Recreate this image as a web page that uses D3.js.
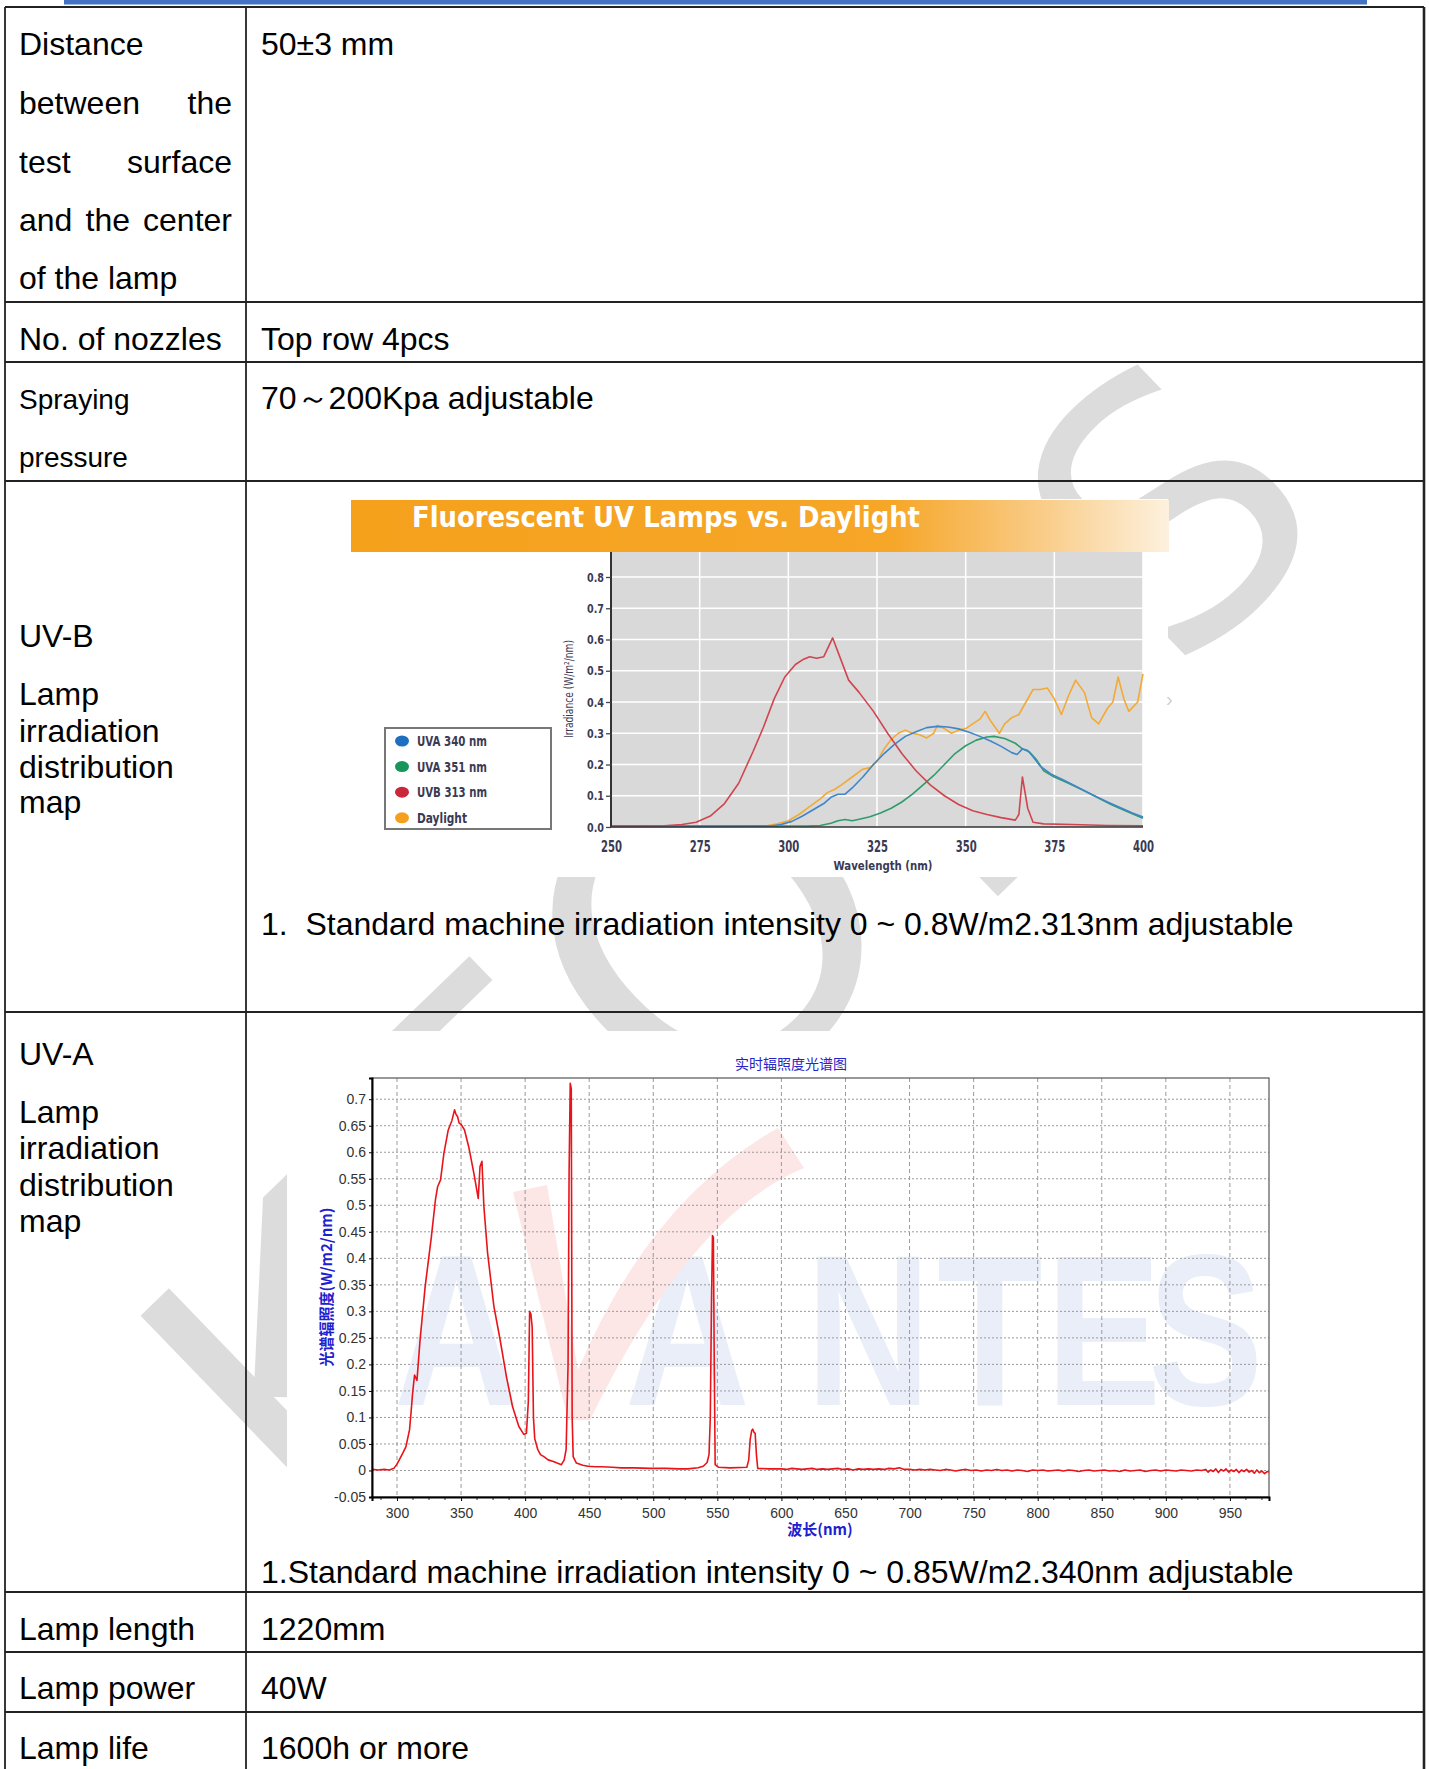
<!DOCTYPE html>
<html>
<head>
<meta charset="utf-8">
<title>UV lamp specification</title>
<script src="https://cdn.jsdelivr.net/npm/d3@7"></script>
<style>
  body { margin: 0; background: #fff; }
  svg { display: block; }
  .cell { font-family: "Liberation Sans", Arial, sans-serif; fill: #000; }
  .narrow { font-family: "Liberation Sans Narrow", "DejaVu Sans Condensed", "Liberation Sans", sans-serif; font-stretch: condensed; font-weight: bold; }
  .spec { font-family: "Liberation Sans", Arial, sans-serif; fill: #333; }
  .cjk { font-family: "Noto Sans CJK SC", "Liberation Sans", sans-serif; }
</style>
</head>
<body>
<div id="page"></div>
<script>
// table text
var rowLabels = [
  ['Distance', 'between the', 'test surface', 'and the center', 'of the lamp'],
  ['No. of nozzles'],
  ['Spraying', 'pressure'],
  ['UV-B', 'Lamp', 'irradiation', 'distribution', 'map'],
  ['UV-A', 'Lamp', 'irradiation', 'distribution', 'map'],
  ['Lamp length'],
  ['Lamp power'],
  ['Lamp life']
];
var rowValues = [
  '50±3 mm',
  'Top row 4pcs',
  '70～200Kpa adjustable',
  '1.  Standard machine irradiation intensity 0 ~ 0.8W/m2.313nm adjustable',
  '1.Standard machine irradiation intensity 0 ~ 0.85W/m2.340nm adjustable',
  '1220mm',
  '40W',
  '1600h or more'
];

// UV-B chart : Fluorescent UV Lamps vs. Daylight
var uvbTitle = 'Fluorescent UV Lamps vs. Daylight';
var uvbTicksX = [250, 275, 300, 325, 350, 375, 400];
var uvbTicksY = [0, 0.1, 0.2, 0.3, 0.4, 0.5, 0.6, 0.7, 0.8];
var legendNames = ['UVA 340 nm', 'UVA 351 nm', 'UVB 313 nm', 'Daylight'];

var uva340 = [[250,0.002],[295,0.003],[298,0.008],[301,0.018],[304,0.035],[307,0.055],[310,0.075],[312,0.095],[314,0.105],[316,0.105],[318,0.125],[321,0.16],[324,0.2],[327,0.235],[330,0.265],[333,0.29],[336,0.305],[339,0.318],[342,0.322],[345,0.32],[348,0.314],[351,0.303],[354,0.29],[357,0.275],[360,0.258],[363,0.238],[364.5,0.232],[366,0.25],[367.5,0.245],[369,0.225],[371,0.195],[374,0.17],[378,0.148],[382,0.125],[386,0.102],[390,0.08],[394,0.06],[397,0.045],[400,0.032]];
var uva351 = [[250,0.002],[305,0.003],[309,0.005],[312,0.012],[314,0.02],[316,0.024],[318,0.02],[320,0.025],[323,0.033],[326,0.045],[329,0.06],[332,0.08],[335,0.105],[338,0.135],[341,0.165],[344,0.2],[347,0.235],[350,0.26],[353,0.278],[356,0.288],[358,0.29],[361,0.283],[364,0.268],[366,0.25],[368,0.24],[370,0.215],[372,0.18],[375,0.16],[379,0.14],[383,0.118],[387,0.095],[391,0.072],[395,0.052],[400,0.028]];
var uvb313 = [[250,0.003],[260,0.003],[265,0.004],[270,0.008],[274,0.015],[278,0.035],[282,0.075],[286,0.14],[290,0.24],[293,0.32],[296,0.41],[299,0.48],[302,0.52],[304,0.535],[306,0.545],[308,0.54],[310,0.545],[312.5,0.605],[315,0.53],[317,0.47],[320,0.43],[324,0.37],[328,0.3],[332,0.235],[336,0.18],[340,0.135],[344,0.1],[348,0.072],[352,0.052],[356,0.04],[360,0.03],[364,0.022],[365,0.04],[366,0.16],[367.5,0.06],[369,0.015],[372,0.01],[380,0.008],[390,0.005],[400,0.004]];
var daylight = [[250,0.003],[294,0.004],[297,0.01],[300,0.02],[303,0.04],[306,0.065],[309,0.09],[311,0.11],[313,0.12],[315,0.135],[318,0.16],[321,0.185],[323,0.19],[325,0.21],[327,0.25],[329,0.28],[331,0.3],[333,0.31],[335,0.3],[337,0.295],[339,0.285],[341,0.3],[342,0.325],[344,0.315],[346,0.3],[348,0.31],[350,0.315],[352,0.33],[354,0.345],[355.5,0.37],[357,0.34],[359.5,0.3],[361,0.33],[363,0.35],[365,0.36],[367,0.4],[369,0.44],[371,0.44],[373,0.445],[375,0.41],[377,0.36],[379,0.42],[381,0.47],[383.5,0.43],[385.5,0.35],[387.5,0.33],[390,0.38],[391.5,0.4],[393,0.48],[394.6,0.41],[396,0.37],[398.5,0.4],[400,0.49]];

// UV-A chart : real-time irradiance spectrum
var specTitle = '实时辐照度光谱图';
var specYTitle = '光谱辐照度(W/m2/nm)';
var specXTitle = '波长(nm)';
var specTicksX = [300, 350, 400, 450, 500, 550, 600, 650, 700, 750, 800, 850, 900, 950];
var specTicksY = [-0.05, 0, 0.05, 0.1, 0.15, 0.2, 0.25, 0.3, 0.35, 0.4, 0.45, 0.5, 0.55, 0.6, 0.65, 0.7];
var spectrum = [[281,0.002],[285,0.001],[290,0.002],[294,0.001],[297.6,0.004],[300,0.012],[302.4,0.023],[305,0.035],[307,0.045],[309.8,0.077],[311,0.11],[312.2,0.146],[313.7,0.18],[315.6,0.17],[318,0.246],[322,0.347],[326.8,0.44],[330,0.51],[331.7,0.535],[334,0.548],[336.6,0.598],[340,0.642],[342.9,0.66],[344.9,0.68],[346,0.672],[347.3,0.667],[348.5,0.655],[350.2,0.652],[352.7,0.642],[356,0.61],[360,0.56],[363.4,0.513],[364.8,0.573],[366.3,0.583],[367.8,0.498],[370.7,0.41],[375.6,0.31],[380.5,0.246],[385.4,0.177],[390.2,0.12],[395.1,0.083],[399,0.068],[401,0.07],[402.5,0.13],[403.5,0.3],[404.5,0.295],[405.5,0.27],[406.5,0.1],[407.5,0.06],[409.8,0.04],[412,0.03],[414.6,0.026],[418,0.02],[422,0.017],[425,0.014],[428.3,0.011],[430.5,0.02],[432,0.04],[433.5,0.2],[434.3,0.56],[435.2,0.73],[436,0.72],[436.7,0.1],[437.5,0.026],[440,0.014],[445,0.01],[449,0.008],[455,0.007],[460,0.007],[468,0.006],[475,0.005],[485,0.005],[497.6,0.004],[510,0.004],[520,0.003],[527,0.003],[535,0.005],[539,0.008],[542,0.015],[543.5,0.03],[544.5,0.1],[545.4,0.31],[546.2,0.443],[546.9,0.44],[547.6,0.2],[548.3,0.011],[551,0.006],[560,0.005],[573,0.006],[574.5,0.02],[575.6,0.058],[576.8,0.075],[577.6,0.078],[578.6,0.072],[579.5,0.07],[580.5,0.03],[581.5,0.004],[590,0.003],
  [600,0.003],[604,0.002],[608,0.004],[612,0.003],[616,0.002],[620,0.003],[624,0.004],[628,0.002],[632,0.003],[636,0.002],[640,0.003],[644,0.004],[648,0.002],[652,0.003],[656,0.001],[660,0.003],[664,0.002],[668,0.003],[672,0.002],[676,0.003],[680,0.002],[684,0.004],[688,0.003],[692,0.005],[696,0.002],
  [700,0.002],[704,0.001],[708,0.002],[712,0.001],[716,0.002],[720,0.001],[724,0],[728,0.002],[732,0.001],[736,-0.001],[740,0.001],[744,0.002],[748,0],[752,0.001],[756,-0.001],[760,0.001],[764,0],[768,0.002],[772,0],[776,0.001],[780,-0.001],[784,0.001],[788,0],[792,-0.002],[796,0.001],
  [800,0],[804,0.001],[808,-0.001],[812,0],[816,0.001],[820,-0.001],[824,0.001],[828,0],[832,-0.002],[836,0],[840,0.001],[844,-0.001],[848,0],[852,0.001],[856,-0.001],[860,0],[864,-0.002],[868,0.001],[872,-0.001],[876,0],[880,0.001],[884,-0.002],[888,0],[892,0.001],[896,-0.001],
  [900,0.001],[904,0],[908,-0.001],[912,0.001],[916,0],[920,-0.001],[924,0.001],[928,0],[931,0.002],[933,-0.003],[935,0.001],[937,-0.002],[939,0.003],[941,-0.004],[943,0.002],[945,-0.001],[947,0.003],[949,-0.003],[951,0.001],[953,-0.002],[955,0.002],[957,-0.004],[959,0.001],[961,-0.002],[963,0.002],[965,-0.003],[967,0],[969,-0.005],[971,0.001],[973,-0.004],[975,-0.001],[977,-0.006],[979,-0.002],[980.5,-0.003]];

// page watermark letters
var watermark = ['K', 'T', 'O', 'N', 'S'];

var W = 1429, H = 1769;
var svg = d3.select('#page').append('svg').attr('width', W).attr('height', H);
var defs = svg.append('defs');
svg.append('rect').attr('width', W).attr('height', H).attr('fill', '#fff');

// ---------- grey page watermark (under everything) ----------
var wmPlace = [
  {cx: 313, cy: 1362, size: 400},
  {cx: 487, cy: 1152, size: 400},
  {cx: 712, cy: 935, size: 420},
  {cx: 981, cy: 720, size: 400},
  {cx: 1171, cy: 512, size: 360}
];
svg.selectAll('text.wm').data(watermark).enter().append('text')
  .attr('transform', function(d, i) { return 'translate(' + wmPlace[i].cx + ',' + wmPlace[i].cy + ') rotate(-44)'; })
  .attr('text-anchor', 'middle').attr('dominant-baseline', 'central')
  .style('font-family', 'DejaVu Sans')
  .style('font-size', function(d, i) { return wmPlace[i].size + 'px'; })
  .attr('fill', '#dcdcdc')
  .text(function(d) { return d; });

// ---------- table layout ----------
var colL = 5, colM = 246, colR = 1424;
var rowEdges = [7, 302, 362, 481, 1012, 1592, 1652, 1712];
var labelBase = [[55, 114, 173, 231, 289], [350], [409, 467], [647, 705, 742, 778, 813], [1065, 1123, 1159, 1196, 1232], [1640], [1699], [1759]];
var labelSize = [32, 32, 28, 32, 32, 32, 32, 32];
var valueBase = [55, 350, 409, 935, 1583, 1640, 1699, 1759];
var justified = {'between the': 1, 'test surface': 1, 'and the center': 1};

// ---------- UV-B chart ----------
var uvb = svg.append('g');
uvb.append('rect').attr('x', 350).attr('y', 499).attr('width', 818).attr('height', 378).attr('fill', '#fff');

var grad = defs.append('linearGradient').attr('id', 'bannerGrad').attr('x1', '0%').attr('x2', '100%');
grad.append('stop').attr('offset', '0%').attr('stop-color', '#f5a11c');
grad.append('stop').attr('offset', '66%').attr('stop-color', '#f6a628');
grad.append('stop').attr('offset', '84%').attr('stop-color', '#f9cb85');
grad.append('stop').attr('offset', '100%').attr('stop-color', '#fdf1de');
uvb.append('rect').attr('x', 351).attr('y', 500).attr('width', 818).attr('height', 52).attr('fill', 'url(#bannerGrad)');
uvb.append('text').attr('class', 'narrow').attr('x', 412).attr('y', 527)
  .style('font-size', '28px').attr('fill', '#fff')
  .attr('textLength', 508).attr('lengthAdjust', 'spacingAndGlyphs')
  .text(uvbTitle);

var xB = d3.scaleLinear().domain([250, 400]).range([611, 1143]);
var yB = d3.scaleLinear().domain([0, 0.8]).range([827, 577]);
var plotTop = 552;

uvb.append('rect').attr('x', xB(250)).attr('y', plotTop)
  .attr('width', xB(400) - xB(250)).attr('height', yB(0) - plotTop).attr('fill', '#d9d9d9');

uvb.selectAll('line.vg').data(uvbTicksX.slice(1)).enter().append('line')
  .attr('x1', function(d) { return xB(d); }).attr('x2', function(d) { return xB(d); })
  .attr('y1', plotTop).attr('y2', yB(0))
  .attr('stroke', '#fff').attr('stroke-width', 1.5);
uvb.selectAll('line.hg').data(uvbTicksY.slice(1)).enter().append('line')
  .attr('x1', xB(250)).attr('x2', xB(400))
  .attr('y1', function(d) { return yB(d); }).attr('y2', function(d) { return yB(d); })
  .attr('stroke', '#fff').attr('stroke-width', 1.5);

var lineB = d3.line().x(function(d) { return xB(d[0]); }).y(function(d) { return yB(d[1]); });
var uvbSeries = [
  {data: daylight, color: '#f2a935'},
  {data: uva351, color: '#2f9c6c'},
  {data: uva340, color: '#3f86c8'},
  {data: uvb313, color: '#d0454f'}
];
uvb.selectAll('path.series').data(uvbSeries).enter().append('path')
  .attr('d', function(d) { return lineB(d.data); })
  .attr('fill', 'none').attr('stroke', function(d) { return d.color; })
  .attr('stroke-width', 1.6).attr('stroke-linejoin', 'round');

// axes
uvb.append('line').attr('x1', xB(250)).attr('x2', xB(250)).attr('y1', plotTop).attr('y2', yB(0))
  .attr('stroke', '#333').attr('stroke-width', 2);
uvb.append('line').attr('x1', xB(250)).attr('x2', xB(400)).attr('y1', yB(0)).attr('y2', yB(0))
  .attr('stroke', '#333').attr('stroke-width', 1.6);

var axYB = uvb.append('g').attr('transform', 'translate(' + xB(250) + ',0)')
  .call(d3.axisLeft(yB).tickValues(uvbTicksY).tickSize(5).tickPadding(2).tickFormat(d3.format('.1f')));
axYB.select('.domain').remove();
axYB.selectAll('line').attr('stroke', '#444').attr('stroke-width', 1.3);
axYB.selectAll('text').attr('class', 'narrow').style('font-size', '13px').attr('fill', '#3a3a55')
  .attr('textLength', 17).attr('lengthAdjust', 'spacingAndGlyphs');

var axXB = uvb.append('g').attr('transform', 'translate(0,' + yB(0) + ')')
  .call(d3.axisBottom(xB).tickValues(uvbTicksX).tickSize(0).tickPadding(14));
axXB.select('.domain').remove();
axXB.selectAll('text').attr('class', 'narrow').style('font-size', '15px').attr('fill', '#3a3a55')
  .attr('textLength', 21).attr('lengthAdjust', 'spacingAndGlyphs');

uvb.append('text').attr('class', 'narrow').attr('x', 883).attr('y', 870)
  .attr('text-anchor', 'middle').style('font-size', '13px').attr('fill', '#3a3a55')
  .attr('textLength', 99).attr('lengthAdjust', 'spacingAndGlyphs')
  .text('Wavelength (nm)');
uvb.append('text').attr('class', 'narrow')
  .attr('transform', 'translate(568,689) rotate(-90)')
  .attr('text-anchor', 'middle').attr('dominant-baseline', 'central')
  .style('font-size', '13px').style('font-weight', 'normal').attr('fill', '#3a3a55')
  .attr('textLength', 98).attr('lengthAdjust', 'spacingAndGlyphs')
  .text('Irradiance (W/m²/nm)');

// legend
var legendColors = ['#1f6fc0', '#17955a', '#c8283a', '#f4a01e'];
var legendWidths = [70, 70, 70, 50];
uvb.append('rect').attr('x', 385).attr('y', 728).attr('width', 166).attr('height', 101)
  .attr('fill', '#fff').attr('stroke', '#777').attr('stroke-width', 2);
var legItem = uvb.selectAll('g.leg').data(legendNames).enter().append('g')
  .attr('transform', function(d, i) { return 'translate(0,' + (741 + i * 25.6) + ')'; });
legItem.append('ellipse').attr('cx', 402).attr('cy', 0).attr('rx', 7).attr('ry', 5.5)
  .attr('fill', function(d, i) { return legendColors[i]; });
legItem.append('text').attr('class', 'narrow').attr('x', 417).attr('y', 0).attr('dy', '0.36em')
  .style('font-size', '14.5px').attr('fill', '#3a3a55')
  .attr('textLength', function(d, i) { return legendWidths[i]; }).attr('lengthAdjust', 'spacingAndGlyphs')
  .text(function(d) { return d; });

uvb.append('text').attr('x', 1166).attr('y', 706).style('font-size', '20px')
  .attr('class', 'cell').style('fill', '#d0d0d0').text('›');

// ---------- UV-A spectrum chart ----------
var spec = svg.append('g');
spec.append('rect').attr('x', 287).attr('y', 1031).attr('width', 1009).attr('height', 513).attr('fill', '#fff');

var xS = d3.scaleLinear().domain([280.5, 980.5]).range([372, 1269]);
var yS = d3.scaleLinear().domain([-0.05, 0.74]).range([1497, 1078]);

// AVANTES logo watermark inside the spectrum picture (one text, squeezed)
var logoText = 'AANTES';
var logoX = [394, 625, 806, 937, 1046, 1148];
var logoSqueeze = 0.8;
spec.append('text')
  .attr('transform', 'scale(' + logoSqueeze + ',1)')
  .attr('x', logoX.map(function(v) { return (v / logoSqueeze).toFixed(1); }).join(' '))
  .attr('y', 1405)
  .style('font-family', 'Liberation Sans').style('font-weight', 'bold').style('font-size', '216px')
  .attr('fill', '#e9eef9').text(logoText);
spec.append('path')
  .attr('d', 'M513,1192 L547,1185 L578,1370 Q650,1200 778,1128 L804,1168 Q690,1215 590,1420 L568,1420 Z')
  .attr('fill', '#fde6e6');

// grid
spec.selectAll('line.vg').data(specTicksX).enter().append('line')
  .attr('x1', function(d) { return xS(d); }).attr('x2', function(d) { return xS(d); })
  .attr('y1', yS(0.74)).attr('y2', yS(-0.05))
  .attr('stroke', '#9a9a9a').attr('stroke-width', 1).attr('stroke-dasharray', '4,3');
spec.selectAll('line.hg').data(specTicksY.slice(1)).enter().append('line')
  .attr('x1', xS(280.5)).attr('x2', xS(980.5))
  .attr('y1', function(d) { return yS(d); }).attr('y2', function(d) { return yS(d); })
  .attr('stroke', '#9a9a9a').attr('stroke-width', 1).attr('stroke-dasharray', '2,2');

// frame
spec.append('rect').attr('x', xS(280.5)).attr('y', yS(0.74))
  .attr('width', xS(980.5) - xS(280.5)).attr('height', yS(-0.05) - yS(0.74))
  .attr('fill', 'none').attr('stroke', '#555').attr('stroke-width', 1.2);

var lineS = d3.line().x(function(d) { return xS(d[0]); }).y(function(d) { return yS(d[1]); });
spec.append('path').attr('d', lineS(spectrum))
  .attr('fill', 'none').attr('stroke', '#e8141a').attr('stroke-width', 1.6).attr('stroke-linejoin', 'round');

var axYS = spec.append('g').attr('transform', 'translate(' + xS(280.5) + ',0)')
  .call(d3.axisLeft(yS).tickValues(specTicksY).tickSize(3).tickPadding(3)
    .tickFormat(function(d) { return String(+d.toFixed(2)); }));
axYS.select('.domain').attr('stroke', '#000').attr('stroke-width', 2);
axYS.selectAll('text').attr('class', 'spec').style('font-size', '14px');

var minorX = d3.range(287.5, 980, 12.5).filter(function(v) { return v % 50 !== 0; });
spec.selectAll('line.mx').data(minorX).enter().append('line')
  .attr('x1', function(d) { return xS(d); }).attr('x2', function(d) { return xS(d); })
  .attr('y1', yS(-0.05)).attr('y2', yS(-0.05) + 3).attr('stroke', '#333');

var axXS = spec.append('g').attr('transform', 'translate(0,' + yS(-0.05) + ')')
  .call(d3.axisBottom(xS).tickValues(specTicksX).tickSize(4).tickPadding(7));
axXS.select('.domain').attr('stroke', '#000').attr('stroke-width', 2);
axXS.selectAll('text').attr('class', 'spec').style('font-size', '14px');

spec.append('text').attr('class', 'cjk').attr('x', 791).attr('y', 1069)
  .attr('text-anchor', 'middle').style('font-size', '14px').attr('fill', '#2424c8').text(specTitle);
spec.append('text').attr('class', 'cjk').attr('x', 820).attr('y', 1535)
  .attr('text-anchor', 'middle').style('font-size', '15px').style('font-weight', 'bold')
  .attr('fill', '#2020d0').text(specXTitle);
spec.append('text').attr('class', 'cjk')
  .attr('transform', 'translate(325,1287) rotate(-90)')
  .attr('text-anchor', 'middle').attr('dominant-baseline', 'central')
  .style('font-size', '15px').style('font-weight', 'bold').attr('fill', '#2020d0').text(specYTitle);

// ---------- table lines & text ----------
svg.append('rect').attr('x', 64).attr('y', 0).attr('width', 1303).attr('height', 4.5).attr('fill', '#4472c4');

var tbl = svg.append('g');
tbl.selectAll('line.h').data(rowEdges).enter().append('line')
  .attr('x1', colL).attr('x2', colR).attr('y1', function(d) { return d; }).attr('y2', function(d) { return d; })
  .attr('stroke', '#222').attr('stroke-width', 1.8);
[colL, colM, colR].forEach(function(x, i) {
  tbl.append('line').attr('x1', x).attr('x2', x).attr('y1', rowEdges[0]).attr('y2', H)
    .attr('stroke', '#222').attr('stroke-width', i === 2 ? 2.6 : 1.8);
});

function justifyLine(g, words, x0, x1, y, size) {
  var nodes = words.map(function(w) {
    return g.append('text').attr('class', 'cell').attr('y', y).style('font-size', size + 'px').text(w);
  });
  var widths = nodes.map(function(n) { return n.node().getComputedTextLength(); });
  var gap = (x1 - x0 - d3.sum(widths)) / (words.length - 1);
  var x = x0;
  nodes.forEach(function(n, i) { n.attr('x', x); x += widths[i] + gap; });
}

rowLabels.forEach(function(lines, r) {
  lines.forEach(function(line, k) {
    var y = labelBase[r][k];
    if (justified[line]) {
      justifyLine(tbl, line.split(' '), 19, 232, y, labelSize[r]);
    } else {
      tbl.append('text').attr('class', 'cell').attr('x', 19).attr('y', y)
        .style('font-size', labelSize[r] + 'px').text(line);
    }
  });
});

rowValues.forEach(function(v, r) {
  tbl.append('text').attr('class', 'cell').attr('x', 261).attr('y', valueBase[r])
    .style('font-size', '32px').style('white-space', 'pre').attr('xml:space', 'preserve').text(v);
});
</script>
</body>
</html>
